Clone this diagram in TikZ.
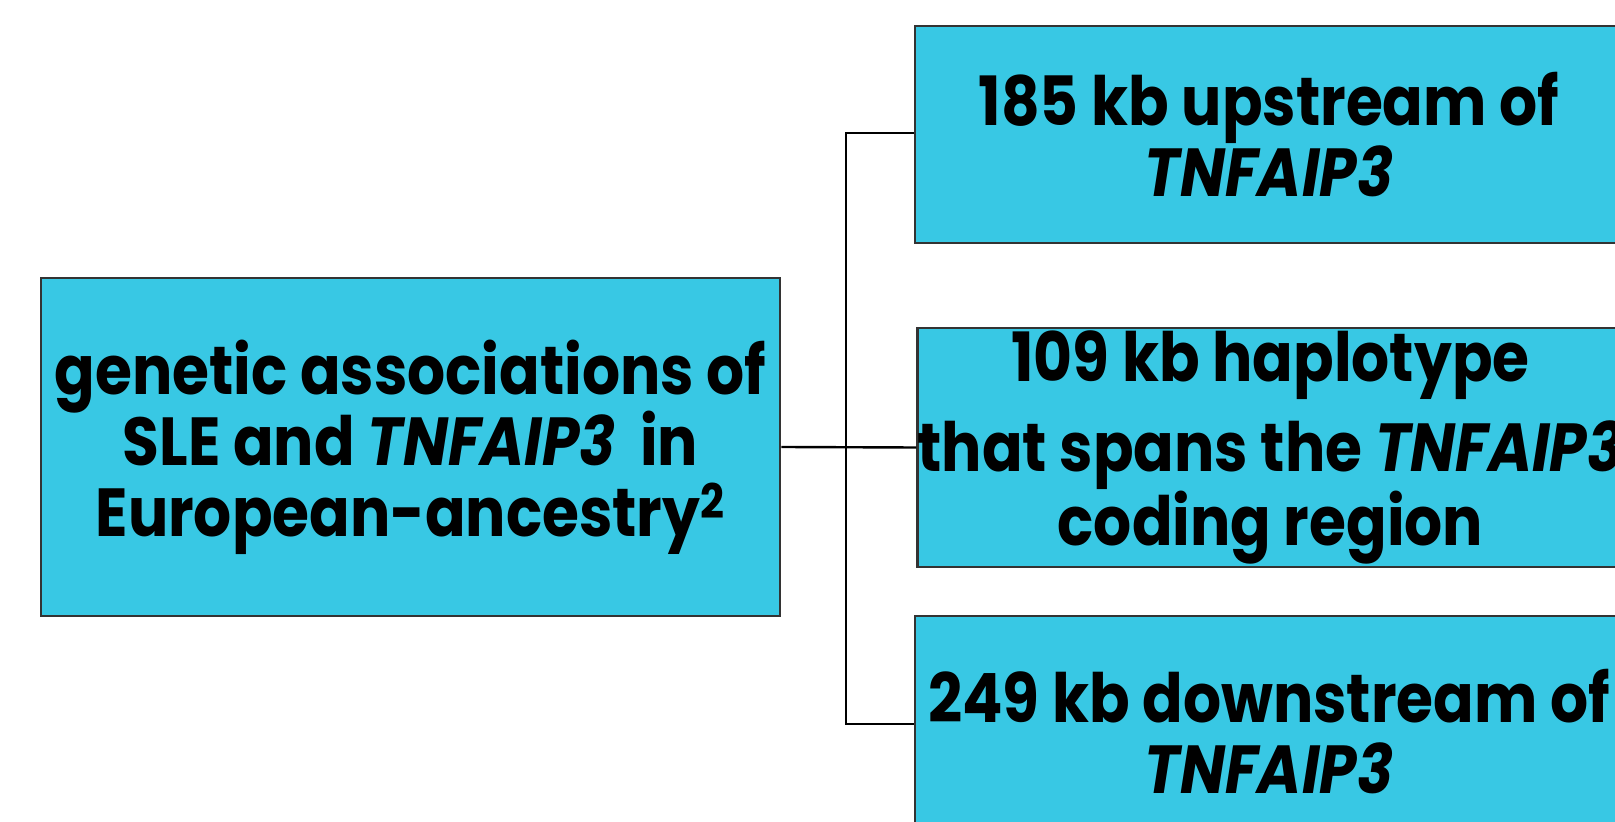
\documentclass[tikz,border=0pt]{standalone}
\usepackage{fontspec}
\setmainfont{Poppins}[FakeStretch=0.88]
\definecolor{boxfill}{HTML}{38C8E4}
\definecolor{boxline}{HTML}{333333}
% fixed line pitch regardless of glyph heights
\newcommand\fixedpitch{\lineskiplimit=-100pt\relax}
\begin{document}
\begin{tikzpicture}[x=0.5pt,y=-0.5pt,
  box/.style={draw=boxline, line width=1.3pt, fill=boxfill, rectangle, inner sep=0pt,
    align=center, font=\bfseries\fontsize{34}{35.5}\selectfont\fixedpitch},
  link/.style={draw=black, line width=1.2pt}]
\useasboundingbox (0,0) rectangle (1615,822);
% source box
\node[box, minimum width=369.5pt, minimum height=169pt] (src) at (410.5,447)
  {genetic associations of\\ SLE and \textit{TNFAIP3}\, in\\ European-ancestry\textsuperscript{2}};
% three target boxes
\node[box, minimum width=354pt, minimum height=108.5pt] (top) at (1269,134.5)
  {185 kb upstream of\\ \textit{TNFAIP3}};
\node[box, minimum width=352.5pt, minimum height=119.5pt,
      font=\bfseries\fontsize{34}{37}\selectfont\fixedpitch] (mid) at (1270.5,447.5)
  {109 kb haplotype\\[8pt] that spans the \textit{TNFAIP3}\\ coding region};
\node[box, minimum width=354pt, minimum height=116pt] (bot) at (1269,732)
  {249 kb downstream of\\ \textit{TNFAIP3}};
% bracket connector
\coordinate (jT) at (846,133);
\coordinate (jB) at (846,724);
\draw[link] (jT -| top.west) -- (jT) -- (jB) -- (jB -| bot.west);
\draw[link] (src.east) -- (mid.west);
\end{tikzpicture}
\end{document}
